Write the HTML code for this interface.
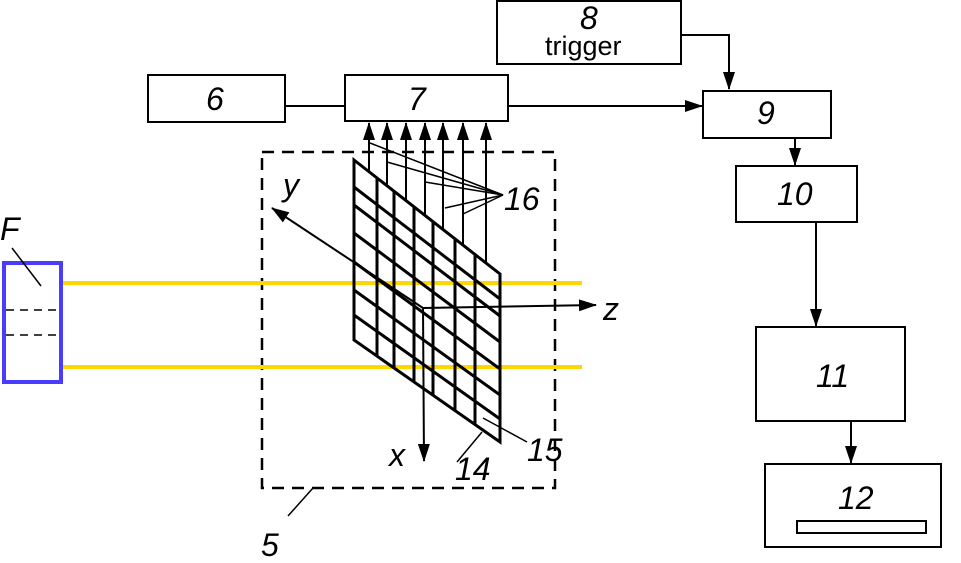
<!DOCTYPE html>
<html><head><style>
body{margin:0;background:#fff}
svg text{font-family:"Liberation Sans",sans-serif;font-style:italic;font-size:32px;fill:#000}
</style></head><body>
<svg width="961" height="558" viewBox="0 0 961 558" xmlns="http://www.w3.org/2000/svg">
<defs>
<marker id="b" markerWidth="18" markerHeight="12" refX="17" refY="6" orient="auto" markerUnits="userSpaceOnUse" viewBox="0 0 18 12"><path d="M0,0L18,6L0,12z" fill="#000"/></marker></defs>
<g fill="none" stroke="#000" stroke-width="2">
<rect x="148" y="75" width="137" height="47"/>
<rect x="345" y="75" width="163" height="46"/>
<rect x="497" y="1" width="184" height="63"/>
<rect x="703" y="91" width="128" height="47"/>
<rect x="736" y="166" width="121" height="56"/>
<rect x="756" y="327" width="149" height="94"/>
<rect x="765" y="464" width="176" height="83"/>
<rect x="797" y="521" width="129" height="12"/>
<line x1="285" y1="106" x2="345" y2="106"/>
<line x1="508" y1="106" x2="702" y2="106" marker-end="url(#b)"/>
<polyline points="681,35 729,35 729,89" marker-end="url(#b)"/>
<line x1="795" y1="138" x2="795" y2="165" marker-end="url(#b)"/>
<line x1="816" y1="222" x2="816" y2="326" marker-end="url(#b)"/>
<line x1="851" y1="421" x2="851" y2="463" marker-end="url(#b)"/>
<rect x="262" y="152" width="293" height="336" stroke-width="2.5" stroke-dasharray="12,8"/>
<line x1="288" y1="516" x2="313" y2="488" stroke-width="1.5"/>
</g>
<g stroke="#FFD700" stroke-width="4"><line x1="63" y1="283" x2="582" y2="283"/><line x1="63" y1="367" x2="582" y2="367"/></g>
<rect x="4" y="263" width="57" height="119" fill="none" stroke="#4a3cff" stroke-width="4"/>
<g stroke="#000" stroke-width="1.5"><line x1="6" y1="310" x2="59" y2="310" stroke-dasharray="8,6"/><line x1="6" y1="335" x2="59" y2="335" stroke-dasharray="8,6"/><line x1="12" y1="248" x2="41" y2="286"/></g>
<g stroke="#000" stroke-width="3" fill="none">
<polygon points="354,160 500,274 500,442 354,340"/>
<line x1="377" y1="178" x2="377" y2="356"/>
<line x1="394" y1="191" x2="394" y2="368"/>
<line x1="414" y1="207" x2="414" y2="382"/>
<line x1="433" y1="222" x2="433" y2="395"/>
<line x1="455" y1="239" x2="455" y2="411"/>
<line x1="475" y1="255" x2="475" y2="425"/>
<line x1="354" y1="187" x2="500" y2="299"/>
<line x1="354" y1="205" x2="500" y2="316"/>
<line x1="354" y1="233" x2="500" y2="342"/>
<line x1="354" y1="262" x2="500" y2="369"/>
<line x1="354" y1="290" x2="500" y2="395"/>
<line x1="354" y1="315" x2="500" y2="419"/>
</g>
<g stroke="#000" stroke-width="2">
<line x1="369" y1="172" x2="369" y2="123" marker-end="url(#b)"/>
<line x1="387" y1="186" x2="387" y2="123" marker-end="url(#b)"/>
<line x1="406" y1="200" x2="406" y2="123" marker-end="url(#b)"/>
<line x1="425" y1="215" x2="425" y2="123" marker-end="url(#b)"/>
<line x1="443" y1="229" x2="443" y2="123" marker-end="url(#b)"/>
<line x1="463" y1="245" x2="463" y2="123" marker-end="url(#b)"/>
<line x1="486" y1="263" x2="486" y2="123" marker-end="url(#b)"/>
<line x1="423" y1="308" x2="272" y2="208" marker-end="url(#b)"/>
<line x1="423" y1="308" x2="596" y2="305" marker-end="url(#b)"/>
<line x1="423" y1="308" x2="424" y2="461" marker-end="url(#b)"/>
</g>
<g stroke="#000" stroke-width="1.5">
<line x1="503" y1="195" x2="370" y2="143"/>
<line x1="503" y1="195" x2="387" y2="162"/>
<line x1="503" y1="195" x2="425" y2="182"/>
<line x1="503" y1="195" x2="445" y2="208"/>
<line x1="503" y1="195" x2="463" y2="214"/>
<line x1="457" y1="462" x2="482" y2="432"/>
<line x1="483" y1="418" x2="527" y2="442"/>
</g>
<text x="206" y="110">6</text>
<text x="408" y="110">7</text>
<text x="580" y="29">8</text>
<text x="545" y="55" style="font-style:normal;font-size:27px">trigger</text>
<text x="757" y="124">9</text>
<text x="777" y="205">10</text>
<text x="816" y="387">11</text>
<text x="838" y="509">12</text>
<text x="504" y="210">16</text>
<text x="283" y="196">y</text>
<text x="603" y="320">z</text>
<text x="389" y="466">x</text>
<text x="455" y="480">14</text>
<text x="527" y="461">15</text>
<text x="261" y="556">5</text>
<text x="0" y="240">F</text>
</svg>
</body></html>
